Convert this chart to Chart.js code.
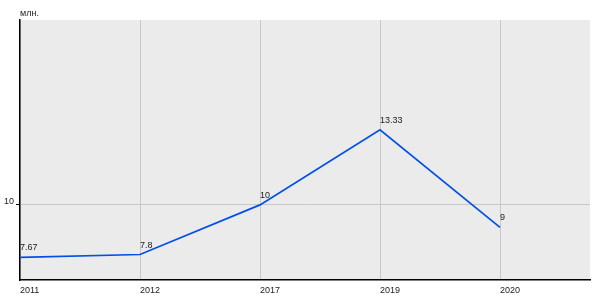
<!DOCTYPE html>
<html>
<head>
<meta charset="utf-8">
<script src="https://cdn.jsdelivr.net/npm/chart.js@4"></script>
<style>
  html, body { margin: 0; padding: 0; background: #fff; }
  #wrap { width: 600px; height: 300px; }
</style>
</head>
<body>
<div id="wrap"><canvas id="chart"></canvas></div>
<script>
// данные
const years = ['2011', '2012', '2017', '2019', '2020'];
const values = [7.67, 7.8, 10, 13.33, 9];
const yTicks = [10];
const unitLabel = 'млн.';

const FONT = '"Liberation Sans", Arial, sans-serif';
const FONT_SIZE = 9;

// фон области графика + подпись единиц
const bgPlugin = {
    id: 'bg',
    beforeDraw(chart) {
        const { ctx, chartArea: a } = chart;
        ctx.save();
        ctx.fillStyle = '#ebebeb';
        ctx.fillRect(a.left, a.top, a.right - a.left, a.bottom - a.top);
        ctx.fillStyle = '#222';
        ctx.font = FONT_SIZE + 'px ' + FONT;
        ctx.textAlign = 'left';
        ctx.textBaseline = 'alphabetic';
        ctx.fillText(unitLabel, a.left, a.top - 4);
        ctx.restore();
    }
};

// подписи значений над точками
const valueLabels = {
    id: 'valueLabels',
    afterDatasetsDraw(chart) {
        const { ctx } = chart;
        const meta = chart.getDatasetMeta(0);
        ctx.save();
        ctx.fillStyle = '#222';
        ctx.font = FONT_SIZE + 'px ' + FONT;
        ctx.textAlign = 'left';
        ctx.textBaseline = 'alphabetic';
        meta.data.forEach((pt, i) => {
            ctx.fillText(String(values[i]), pt.x, pt.y - 7);
        });
        ctx.restore();
    }
};

new Chart(document.getElementById('chart'), {
    type: 'line',
    data: {
        datasets: [{
            data: values.map((v, i) => ({ x: i, y: v })),
            borderColor: '#0050e6',
            borderWidth: 1.7,
            pointRadius: 0,
            tension: 0,
            fill: false
        }]
    },
    options: {
        responsive: true,
        maintainAspectRatio: false,
        animation: false,
        layout: { padding: { top: 20, right: 10, left: 0, bottom: 0 } },
        plugins: {
            legend: { display: false },
            tooltip: { enabled: false }
        },
        scales: {
            x: {
                type: 'linear',
                min: 0,
                max: 4.75,
                afterBuildTicks: s => { s.ticks = years.map((_, i) => ({ value: i })); },
                afterFit: s => { s.height = 20; },
                grid: { color: '#c8c8c8', lineWidth: 1, drawTicks: false },
                border: { color: '#000', width: 1.5 },
                ticks: {
                    align: 'start',
                    padding: 5,
                    color: '#222',
                    font: { family: FONT, size: FONT_SIZE },
                    maxRotation: 0,
                    callback: v => years[v]
                }
            },
            y: {
                min: 6.67,
                max: 18.2,
                afterBuildTicks: s => { s.ticks = yTicks.map(v => ({ value: v })); },
                afterFit: s => { s.width = 20; },
                grid: { color: '#c8c8c8', lineWidth: 1, tickLength: 4, tickColor: '#000' },
                border: { color: '#000', width: 1.5 },
                ticks: {
                    padding: 2,
                    labelOffset: -3,
                    color: '#222',
                    font: { family: FONT, size: FONT_SIZE }
                }
            }
        }
    },
    plugins: [bgPlugin, valueLabels]
});
</script>
</body>
</html>
